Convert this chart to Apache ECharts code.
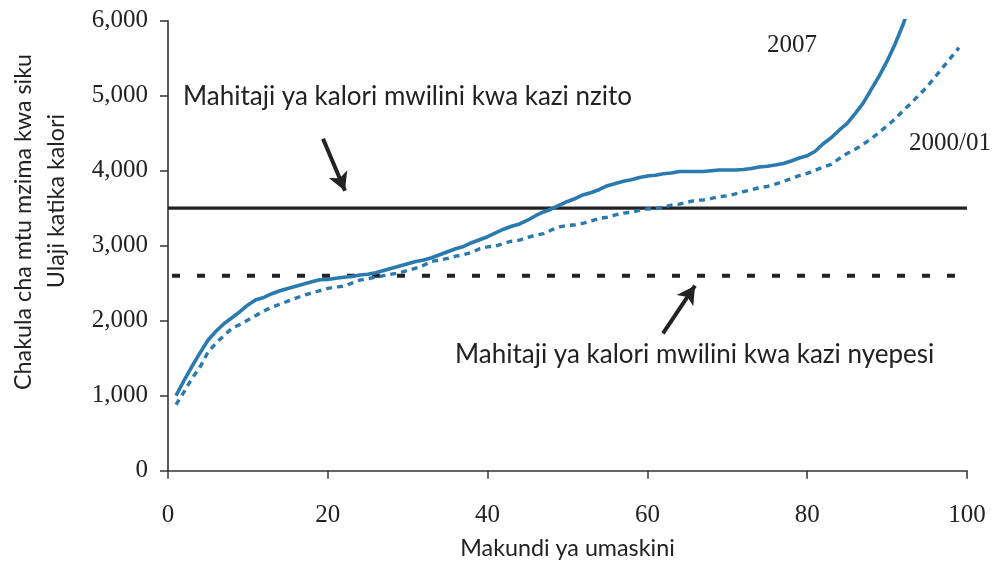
<!DOCTYPE html>
<html>
<head>
<meta charset="utf-8">
<script src="https://cdn.jsdelivr.net/npm/echarts@6/dist/echarts.min.js"></script>
<style>
html,body{margin:0;padding:0;background:#fff;}
#c{width:1001px;height:561px;}
</style>
</head>
<body>
<div id="c"></div>
<script>
// ---- data ----
const percentiles2007 = [1,2,3,4,5,6,7,8,9,10,11,12,13,14,15,16,17,18,19,20,21,22,23,24,25,26,27,28,29,30,31,32,33,34,35,36,37,38,39,40,41,42,43,44,45,46,47,48,49,50,51,52,53,54,55,56,57,58,59,60,61,62,63,64,65,66,67,68,69,70,71,72,73,74,75,76,77,78,79,80,81,82,83,84,85,86,87,88,89,90,91,92,93];
const kcal2007 = [1000,1200,1390,1570,1740,1860,1960,2040,2120,2210,2280,2310,2360,2400,2430,2460,2490,2520,2545,2550,2565,2580,2590,2610,2620,2640,2670,2700,2730,2760,2790,2810,2840,2880,2920,2960,2990,3040,3080,3120,3170,3220,3260,3290,3340,3400,3450,3490,3540,3590,3630,3680,3710,3750,3800,3830,3860,3880,3910,3930,3940,3960,3970,3990,3990,3990,3990,4000,4010,4010,4010,4015,4030,4050,4060,4075,4095,4130,4170,4200,4260,4360,4440,4540,4630,4760,4900,5080,5260,5460,5690,5950,6250];
const percentiles2000 = [1,2,3,4,5,6,7,8,9,10,11,12,13,14,15,16,17,18,19,20,21,22,23,24,25,26,27,28,29,30,31,32,33,34,35,36,37,38,39,40,41,42,43,44,45,46,47,48,49,50,51,52,53,54,55,56,57,58,59,60,61,62,63,64,65,66,67,68,69,70,71,72,73,74,75,76,77,78,79,80,81,82,83,84,85,86,87,88,89,90,91,92,93,94,95,96,97,98,99];
const kcal2000 = [880,1050,1230,1380,1580,1700,1800,1900,1950,2010,2070,2130,2180,2220,2260,2300,2340,2370,2400,2430,2450,2460,2500,2540,2560,2580,2600,2620,2640,2670,2700,2740,2790,2810,2830,2860,2880,2910,2960,2985,2995,3030,3060,3075,3110,3140,3160,3210,3250,3270,3280,3300,3330,3365,3380,3410,3435,3446,3470,3490,3495,3515,3540,3555,3580,3605,3610,3630,3654,3665,3690,3720,3745,3775,3790,3820,3855,3895,3935,3965,4005,4050,4085,4160,4230,4285,4350,4425,4510,4600,4690,4800,4900,5010,5120,5250,5380,5510,5640];
const heavyWorkReq = 3500;
const heavyRange = [0, 100];
const lightWorkReq = 2600;
const lightRange = [0.5, 99];
const xTicks = [0, 20, 40, 60, 80, 100];
const yTicks = [0, 1000, 2000, 3000, 4000, 5000, 6000];
const arrowHeavy = [[19.4, 4426], [22.15, 3732]];
const arrowLight = [[61.95, 1830], [65.96, 2467]];
const labelHeavy = 'Mahitaji ya kalori mwilini kwa kazi nzito';
const labelLight = 'Mahitaji ya kalori mwilini kwa kazi nyepesi';
const series2007Name = '2007';
const series2000Name = '2000/01';
const yTitle1 = 'Chakula cha mtu mzima kwa siku';
const yTitle2 = 'Ulaji katika kalori';
const xTitle = 'Makundi ya umaskini';

const BLUE = '#2a7ab0';
const INK = '#222222';
const SANS = 'Lato';
const SERIF = 'Liberation Serif';

const chart = echarts.init(document.getElementById('c'), null, {renderer: 'canvas'});
const zip = (xs, ys) => xs.map((x, i) => [x, ys[i]]);

chart.setOption({
  animation: false,
  backgroundColor: '#ffffff',
  grid: {left: 168, right: 34, top: 20.7, bottom: 90.3, containLabel: false, outerBoundsMode: 'none'},
  xAxis: {
    type: 'value', min: xTicks[0], max: xTicks[xTicks.length - 1], interval: xTicks[1] - xTicks[0],
    axisLine: {show: true, lineStyle: {color: '#333', width: 1.6}},
    axisTick: {show: true, inside: false, length: 8, lineStyle: {color: '#333', width: 1.5}},
    splitLine: {show: false},
    axisLabel: {margin: 32, color: INK, fontFamily: SERIF, fontSize: 25},
    name: xTitle, nameLocation: 'middle', nameGap: 66,
    nameTextStyle: {fontFamily: SANS, fontSize: 23.3, color: INK}
  },
  yAxis: {
    type: 'value', min: yTicks[0], max: yTicks[yTicks.length - 1], interval: yTicks[1] - yTicks[0],
    axisLine: {show: true, lineStyle: {color: '#333', width: 1.6}},
    axisTick: {show: true, inside: false, length: 8, lineStyle: {color: '#333', width: 1.5}},
    splitLine: {show: false},
    axisLabel: {margin: 20, color: INK, fontFamily: SERIF, fontSize: 25,
      formatter: v => v.toLocaleString('en-US')}
  },
  series: [
    {
      name: 'heavy', type: 'line', data: heavyRange.map(x => [x, heavyWorkReq]),
      showSymbol: false, silent: true, clip: false,
      lineStyle: {color: INK, width: 3.2},
      markLine: {
        silent: true, symbol: ['none', 'arrow'], symbolSize: [15, 18],
        label: {show: false},
        lineStyle: {color: INK, width: 4, type: 'solid'},
        data: [
          [{coord: arrowHeavy[0]}, {coord: arrowHeavy[1]}],
          [{coord: arrowLight[0]}, {coord: arrowLight[1]}]
        ]
      }
    },
    {
      name: 'light', type: 'line', data: lightRange.map(x => [x, lightWorkReq]),
      showSymbol: false, silent: true,
      lineStyle: {color: INK, width: 4, type: [8, 17]}
    },
    {
      name: series2000Name, type: 'line', data: zip(percentiles2000, kcal2000),
      showSymbol: false, silent: true,
      lineStyle: {color: BLUE, width: 3.4, type: [6, 5]}
    },
    {
      name: series2007Name, type: 'line', data: zip(percentiles2007, kcal2007),
      showSymbol: false, silent: true, clip: true,
      lineStyle: {color: BLUE, width: 3.6}
    }
  ],
  graphic: [
    {type: 'text', x: 183, y: 97, style: {text: labelHeavy, fontFamily: SANS, fontSize: 26, fill: INK, verticalAlign: 'middle'}},
    {type: 'text', x: 455, y: 355, style: {text: labelLight, fontFamily: SANS, fontSize: 26, fill: INK, verticalAlign: 'middle'}},
    {type: 'text', x: 767, y: 45, style: {text: series2007Name, fontFamily: SERIF, fontSize: 25, fill: INK, verticalAlign: 'middle'}},
    {type: 'text', x: 909, y: 143, style: {text: series2000Name, fontFamily: SERIF, fontSize: 25, fill: INK, verticalAlign: 'middle'}},
    {type: 'text', x: 23, y: 222, rotation: Math.PI / 2,
      style: {text: yTitle1, fontFamily: SANS, fontSize: 23.3, fill: INK, align: 'center', verticalAlign: 'middle'}},
    {type: 'text', x: 56, y: 201, rotation: Math.PI / 2,
      style: {text: yTitle2, fontFamily: SANS, fontSize: 23.3, fill: INK, align: 'center', verticalAlign: 'middle'}}
  ]
});
</script>
</body>
</html>
